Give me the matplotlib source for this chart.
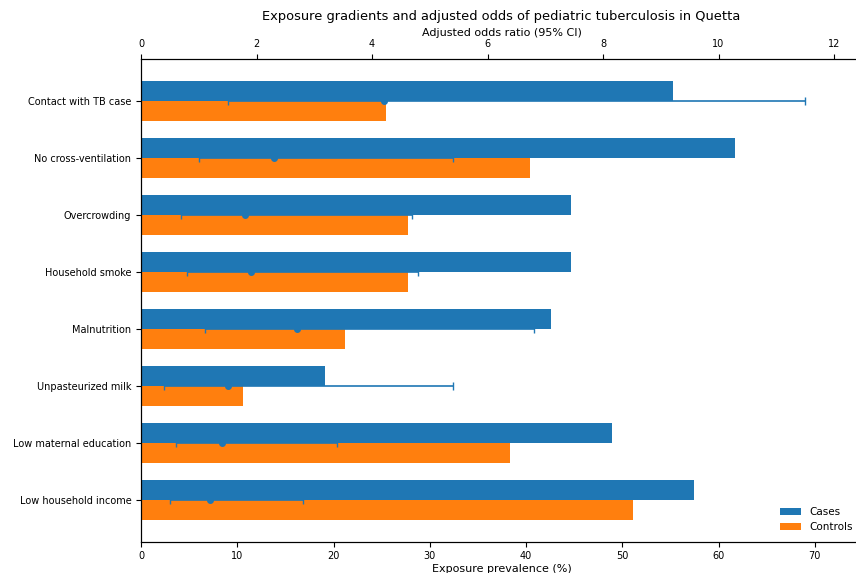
import numpy as np
import matplotlib.pyplot as plt

factors = ['Contact with TB case', 'No cross-ventilation', 'Overcrowding', 'Household smoke',
           'Malnutrition', 'Unpasteurized milk', 'Low maternal education', 'Low household income']
cases_pct = [55.3, 61.7, 44.7, 44.7, 42.6, 19.1, 48.9, 57.4]
controls_pct = [25.5, 40.4, 27.7, 27.7, 21.2, 10.6, 38.3, 51.1]
aor = [4.2, 2.3, 1.8, 1.9, 2.7, 1.5, 1.4, 1.2]
aor_low = [1.5, 1.0, 0.7, 0.8, 1.1, 0.4, 0.6, 0.5]
aor_high = [11.5, 5.4, 4.7, 4.8, 6.8, 5.4, 3.4, 2.8]


def main():
    fig = plt.figure(figsize=(8.56, 5.73), dpi=100)
    ax = fig.add_axes([141 / 856, (573 - 541.5) / 573, (862 - 141) / 856, (541.5 - 59) / 573])

    y = np.arange(len(factors))
    h = 0.35
    ax.barh(y - h / 2, cases_pct, h, color='C0', label='Cases')
    ax.barh(y + h / 2, controls_pct, h, color='C1', label='Controls')
    ax.set_yticks(y)
    ax.set_yticklabels(factors, fontsize=7)
    ax.invert_yaxis()
    ax.set_xlim(0, 74.9)
    ax.set_xlabel('Exposure prevalence (%)', fontsize=8, labelpad=2)
    ax.tick_params(axis='x', labelsize=7)
    ax.spines['right'].set_visible(False)
    ax.legend(loc='lower right', frameon=False, fontsize=7.5)

    ax2 = ax.twiny()
    aor_arr = np.array(aor)
    err = [aor_arr - np.array(aor_low), np.array(aor_high) - aor_arr]
    ax2.errorbar(aor_arr, y, xerr=err, fmt='o', color='C0', ms=4, capsize=3, elinewidth=1.2)
    ax2.set_xlim(0, 74.9 / 6)
    ax2.set_xticks(np.arange(0, 13, 2))
    ax2.tick_params(axis='x', labelsize=7)
    ax2.set_xlabel('Adjusted odds ratio (95% CI)', fontsize=8, labelpad=2)
    ax2.spines['right'].set_visible(False)
    ax2.set_title('Exposure gradients and adjusted odds of pediatric tuberculosis in Quetta',
                  fontsize=9.4, pad=6)
    fig.savefig('out.png', dpi=100)


if __name__ == "__main__":
    main()
